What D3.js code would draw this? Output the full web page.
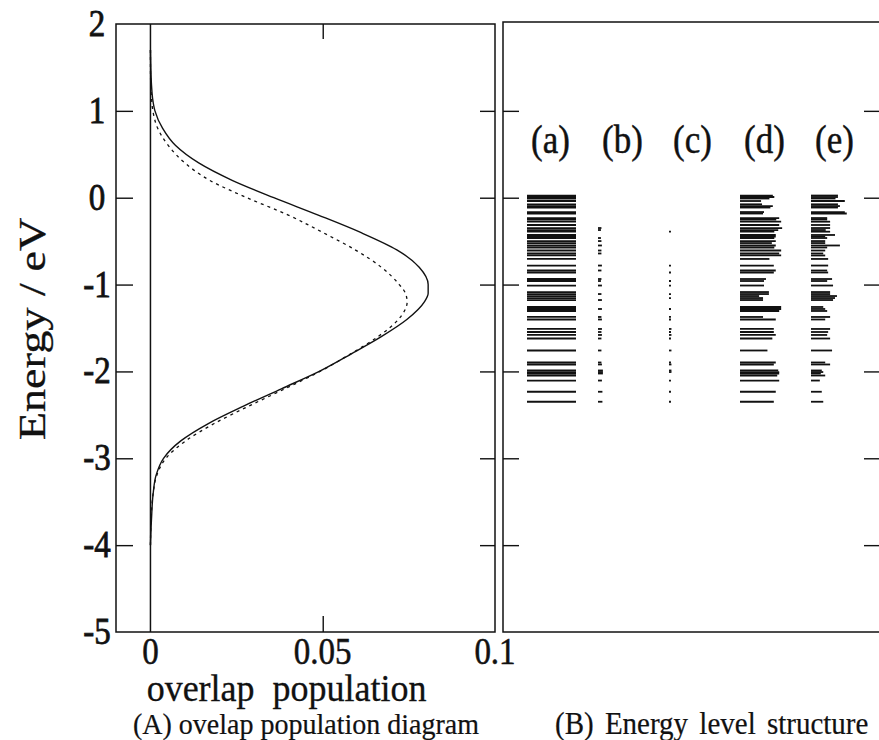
<!DOCTYPE html>
<html>
<head>
<meta charset="utf-8">
<script src="https://cdn.jsdelivr.net/npm/d3@7"></script>
<style>
  html, body { margin: 0; padding: 0; background: #fff; }
  svg { display: block; }
  text { font-family: "Liberation Serif", "Times New Roman", serif; fill: #111; }
</style>
</head>
<body>
<svg id="chart" width="879" height="740"></svg>
<script>
// ---- (A) overlap population vs energy ----
const energyGrid = [1.7, 1.5, 1.3, 1.15, 1.0, 0.8, 0.6, 0.4, 0.2, 0.0, -0.2, -0.4, -0.6, -0.8, -1.0, -1.1,
  -1.2, -1.4, -1.6, -1.8, -2.0, -2.2, -2.4, -2.6, -2.8, -3.0, -3.2, -3.4, -3.7, -4.0];
const overlapSolid = [0.0, 0.0001, 0.0003, 0.0006, 0.0013, 0.0035, 0.0073, 0.0140, 0.0237, 0.0358, 0.0487,
  0.0610, 0.0715, 0.0780, 0.0806, 0.0806, 0.0795, 0.0745, 0.0670, 0.0582, 0.0490, 0.0380, 0.0270, 0.0168,
  0.0088, 0.0038, 0.0016, 0.0008, 0.0003, 0.0];
const overlapDashed = [0.0, 0.0, 0.0001, 0.0003, 0.0007, 0.0021, 0.0052, 0.0100, 0.0172, 0.0280, 0.0400,
  0.0500, 0.0594, 0.0670, 0.0722, 0.0740, 0.0745, 0.0720, 0.0660, 0.0580, 0.0492, 0.0390, 0.0285, 0.0185,
  0.0102, 0.0045, 0.0018, 0.0008, 0.0002, 0.0];

const energyTicks = [1, 0, -1, -2, -3, -4];
const energyTickLabels = ["2", "1", "0", "-1", "-2", "-3", "-4", "-5"];
const energyLabelValues = [2, 1, 0, -1, -2, -3, -4, -5];
const overlapTickLabels = ["0", "0.05", "0.1"];
const overlapTickValues = [0, 0.05, 0.1];

// ---- (B) energy levels (eV) and relative weights per column ----
const columns = ["(a)", "(b)", "(c)", "(d)", "(e)"];
const levelEnergies = [0.025, 0.008, -0.009, -0.038, -0.076, -0.096, -0.113, -0.165, -0.182, -0.234, -0.251,
  -0.276, -0.314, -0.349, -0.372, -0.391, -0.429, -0.447, -0.464, -0.499, -0.522, -0.550, -0.573, -0.608,
  -0.642, -0.665, -0.705, -0.781, -0.838, -0.861, -0.936, -0.959, -1.011, -1.086, -1.109, -1.132, -1.155,
  -1.178, -1.258, -1.281, -1.304, -1.373, -1.402, -1.511, -1.546, -1.580, -1.621, -1.759, -1.897, -1.920,
  -1.989, -2.007, -2.024, -2.047, -2.105, -2.234, -2.349];
const weightA = levelEnergies.map(() => 1);
const weightB = [0, 0, 0, 0, 0, 0, 0, 0, 0, 0, 0,
  0, 0, 0.07, 0.06, 0, 0, 0, 0.06, 0.07, 0, 0.08, 0, 0.07,
  0.07, 0, 0, 0.08, 0.07, 0, 0.07, 0.06, 0.08, 0, 0.07, 0, 0,
  0.08, 0, 0.08, 0, 0.07, 0.08, 0.08, 0.07, 0.08, 0.07, 0.07, 0.07, 0.08,
  0.10, 0.10, 0.10, 0, 0.08, 0.09, 0.09];
const weightC = [0, 0, 0, 0, 0, 0, 0, 0, 0, 0, 0,
  0, 0, 0, 0, 0.04, 0, 0, 0, 0, 0, 0, 0, 0,
  0, 0, 0, 0.04, 0, 0.04, 0, 0.04, 0.04, 0, 0.04, 0, 0.04,
  0, 0, 0.04, 0, 0.04, 0.04, 0.05, 0.04, 0.05, 0.04, 0.05, 0.04, 0.05,
  0.05, 0.05, 0, 0, 0.04, 0.04, 0.04];
const weightD = [0.67, 0.70, 0.60, 0.43, 0.45, 0.67, 0.62, 0.49, 0.47, 0.80, 0.74,
  0.84, 0.80, 0.86, 0.78, 0.70, 0.73, 0.73, 0.70, 0.73, 0.65, 0.73, 0.70, 0.84,
  0.80, 0.84, 0.60, 0.69, 0.73, 0.69, 0.53, 0.49, 0.49, 0.59, 0.59, 0.39, 0.47,
  0.47, 0.84, 0.84, 0.80, 0.47, 0.73, 0.69, 0.69, 0.73, 0.66, 0.56, 0.73, 0.69,
  0.78, 0.80, 0.80, 0.76, 0.80, 0.73, 0.69];
const weightE = [0.55, 0.55, 0.50, 0.69, 0.55, 0.59, 0.55, 0.69, 0.73, 0.33, 0.33,
  0.39, 0.39, 0.39, 0.30, 0.39, 0.49, 0.29, 0.33, 0.29, 0.29, 0.59, 0.33, 0.29,
  0.25, 0.29, 0.35, 0.35, 0.33, 0.35, 0.43, 0.33, 0.45, 0.39, 0.39, 0.53, 0.49,
  0.45, 0.25, 0.29, 0.33, 0.39, 0.29, 0.39, 0.35, 0.33, 0.39, 0.43, 0.29, 0.39,
  0.22, 0.25, 0.20, 0.29, 0.18, 0.22, 0.25];
const columnWeights = [weightA, weightB, weightC, weightD, weightE];

const panelCaptions = ["(A) ovelap population diagram", "(B) Energy level structure"];
const xTitle = "overlap  population";
const yTitle = "Energy / eV";

// ---- layout ----
const STRETCH = 1.15;           // text is drawn slightly tall
const INK = "#111";
const plotTop = 24, plotBottom = 632;
const panelA = { left: 116, right: 495 };
const panelB = { left: 503, right: 881 };

const svg = d3.select("#chart");

const y = d3.scaleLinear().domain([-5, 2]).range([plotBottom, plotTop]);
const xA = d3.scaleLinear().domain([-0.01, 0.1]).range([panelA.left, panelA.right]);
const xB = d3.scaleBand().domain(columns).range([527, 527 + 71 * columns.length]).paddingInner(0);
const barLen = d3.scaleLinear().domain([0, 1]).range([0, 49]);

function stretchedText(g, x, yy, s, size, anchor, opts = {}) {
  const k = opts.stretch || STRETCH;
  return g.append("text")
    .attr("transform", `translate(${x},${yy}) scale(1,${k})${opts.rotate ? " rotate(-90)" : ""}`)
    .attr("text-anchor", anchor)
    .style("font-size", size + "px")
    .style("white-space", "pre")
    .style("word-spacing", (opts.wordSpacing || 0) + "px")
    .attr("stroke", opts.heavy ? INK : "none")
    .attr("stroke-width", opts.heavy || 0)
    .text(s);
}

function styleAxis(g) {
  g.select(".domain").remove();
  g.selectAll(".tick line").attr("stroke", INK).attr("stroke-width", 1.4);
}

// ---- panel A frame and ticks ----
const gA = svg.append("g");
gA.append("rect")
  .attr("x", panelA.left).attr("y", plotTop)
  .attr("width", panelA.right - panelA.left).attr("height", plotBottom - plotTop)
  .attr("fill", "none").attr("stroke", INK).attr("stroke-width", 1.5);

gA.append("g").attr("transform", `translate(${panelA.left},0)`)
  .call(d3.axisLeft(y).tickValues(energyTicks).tickSize(-17).tickFormat(""))
  .call(styleAxis);
gA.append("g").attr("transform", `translate(${panelA.right},0)`)
  .call(d3.axisRight(y).tickValues(energyTicks).tickSize(-15).tickFormat(""))
  .call(styleAxis);
gA.append("g").attr("transform", `translate(0,${plotTop})`)
  .call(d3.axisTop(xA).tickValues([0.05]).tickSize(-15).tickFormat(""))
  .call(styleAxis);
gA.append("g").attr("transform", `translate(0,${plotBottom})`)
  .call(d3.axisBottom(xA).tickValues([0.05]).tickSize(-16).tickFormat(""))
  .call(styleAxis);

// zero line of overlap population
gA.append("line")
  .attr("x1", xA(0)).attr("x2", xA(0)).attr("y1", plotTop).attr("y2", plotBottom)
  .attr("stroke", INK).attr("stroke-width", 1.5);

// curves
const curveLine = d3.line()
  .x(d => xA(d[1]))
  .y(d => y(d[0]))
  .curve(d3.curveMonotoneY);

gA.append("path")
  .datum(d3.zip(energyGrid, overlapSolid))
  .attr("d", curveLine)
  .attr("fill", "none").attr("stroke", INK).attr("stroke-width", 1.4);

gA.append("path")
  .datum(d3.zip(energyGrid, overlapDashed))
  .attr("d", curveLine)
  .attr("fill", "none").attr("stroke", INK).attr("stroke-width", 1.3)
  .attr("stroke-dasharray", "3,4");

// ---- panel B frame, ticks, level bars ----
const gB = svg.append("g");
gB.append("rect")
  .attr("x", panelB.left).attr("y", plotTop - 2)
  .attr("width", panelB.right - panelB.left).attr("height", plotBottom - plotTop + 2)
  .attr("fill", "none").attr("stroke", INK).attr("stroke-width", 1.5);

gB.append("g").attr("transform", `translate(${panelB.left},0)`)
  .call(d3.axisLeft(y).tickValues(energyTicks).tickSize(-16).tickFormat(""))
  .call(styleAxis);
gB.append("g").attr("transform", `translate(${panelB.right},0)`)
  .call(d3.axisRight(y).tickValues(energyTicks).tickSize(-17).tickFormat(""))
  .call(styleAxis);

columns.forEach((col, ci) => {
  const weights = columnWeights[ci];
  const marks = levelEnergies
    .map((e, i) => ({ e, w: weights[i] }))
    .filter(d => d.w > 0);
  gB.append("g").selectAll("line")
    .data(marks)
    .join("line")
    .attr("x1", xB(col))
    .attr("x2", d => xB(col) + Math.max(barLen(d.w), 1.5))
    .attr("y1", d => y(d.e))
    .attr("y2", d => y(d.e))
    .attr("stroke", INK)
    .attr("stroke-width", 1.8);
  stretchedText(gB, xB(col) + 4, 153, col, 35, "start", { heavy: 0.4 });
});

// ---- text: tick labels, titles, captions ----
const gT = svg.append("g");
energyLabelValues.forEach((v, i) => {
  stretchedText(gT, 97, y(v) + 12, energyTickLabels[i], 33, "middle", { heavy: 0.7 });
});
overlapTickValues.forEach((v, i) => {
  stretchedText(gT, xA(v), 664, overlapTickLabels[i], 33, "middle", { heavy: 0.5 });
});
stretchedText(gT, xA(0.0395), 701, xTitle, 36, "middle", { heavy: 0.3, stretch: 1.06 });
stretchedText(gT, 45, 329, yTitle, 37, "middle", { rotate: true, stretch: 1.25, heavy: 0.3 });
stretchedText(gT, 133, 734, panelCaptions[0], 28, "start", { heavy: 0.2, stretch: 1.06 });
stretchedText(gT, 555, 734, panelCaptions[1], 29, "start", { heavy: 0.2, wordSpacing: 4, stretch: 1.06 });
</script>
</body>
</html>
